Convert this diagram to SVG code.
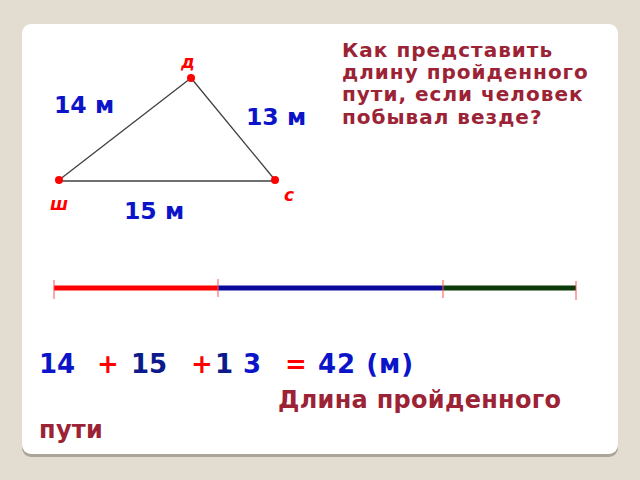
<svg xmlns="http://www.w3.org/2000/svg" width="640" height="480" viewBox="0 0 640 480">
<style>
.t{font-family:"DejaVu Sans","Noto Sans",sans-serif;font-weight:bold}
.blue{fill:#0b14c8}
.navy{fill:#0d1a8c}
.red{fill:#ff0000}
.wine{fill:#9b2335}
.pt{fill:#ff0000}
.lbl{font-family:"DejaVu Sans",sans-serif;font-weight:bold;font-style:italic;fill:#ff0000;font-size:17px}
.edge{stroke:#404040;stroke-width:1.3;fill:none}
.tick{stroke:#ff5050;stroke-width:1}
</style>
<rect width="640" height="480" fill="#e3ddd1"/>
<rect x="22" y="27" width="596" height="430" rx="9" fill="#aaa59a"/>
<rect x="22" y="24" width="596" height="430" rx="9" fill="#ffffff"/>
<g id="connectors">
<line class="edge" x1="59" y1="180" x2="191" y2="78"/>
<line class="edge" x1="191" y1="78" x2="275" y2="180"/>
<line class="edge" x1="59" y1="181" x2="275" y2="181"/>
</g>
<g id="node-D"><circle class="pt" cx="191" cy="78" r="4"/><text class="lbl" x="181" y="68">д</text></g>
<g id="node-Sh"><circle class="pt" cx="59" cy="180" r="4"/><text class="lbl" x="50" y="210">ш</text></g>
<g id="node-S"><circle class="pt" cx="275" cy="180" r="4"/><text class="lbl" x="284" y="201">с</text></g>
<g id="edge-labels" class="t" font-size="23.5">
<text class="blue" x="54" y="113">14 м</text>
<text class="blue" x="246" y="125">13 м</text>
<text class="blue" x="124" y="219">15 м</text>
</g>
<g id="question" class="t wine" font-size="20" letter-spacing="1">
<text x="342" y="57">Как представить</text>
<text x="342" y="79">длину пройденного</text>
<text x="342" y="101">пути, если человек</text>
<text x="342" y="124">побывал везде?</text>
</g>
<g id="segment">
<line x1="54" y1="288" x2="218" y2="288" stroke="#ff0000" stroke-width="5"/>
<line x1="218" y1="288" x2="443" y2="288" stroke="#0a0a9a" stroke-width="5"/>
<line x1="443" y1="288" x2="576" y2="288" stroke="#0b3a0b" stroke-width="5"/>
<line class="tick" x1="54" y1="280" x2="54" y2="299"/>
<line class="tick" x1="218" y1="279" x2="218" y2="297"/>
<line class="tick" x1="443" y1="280" x2="443" y2="298"/>
<line class="tick" x1="576" y1="281" x2="576" y2="300"/>
</g>
<g id="equation" class="t" font-size="26">
<text class="blue" x="39" y="373">14</text>
<text class="red" x="97" y="373">+</text>
<text class="navy" x="131" y="373">15</text>
<text class="red" x="191" y="373">+</text>
<text class="navy" x="215" y="373">1</text>
<text class="blue" x="243" y="373">3</text>
<text class="red" x="285" y="373">=</text>
<text class="blue" x="318" y="373" letter-spacing="1">42 (м)</text>
</g>
<g id="caption" class="t wine" font-size="24" letter-spacing="0.3">
<text x="278" y="408">Длина пройденного</text>
<text x="39" y="438">пути</text>
</g>
</svg>
